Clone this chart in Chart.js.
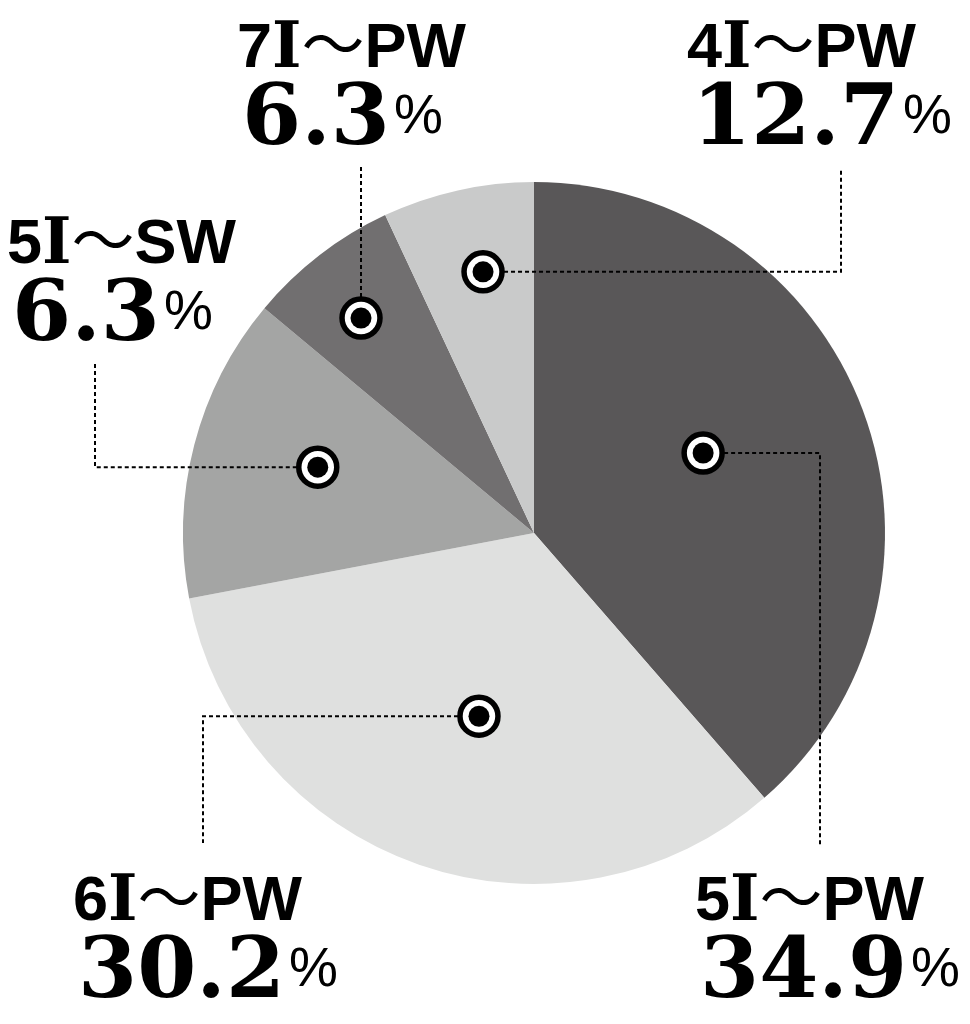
<!DOCTYPE html>
<html>
<head>
<meta charset="utf-8">
<script src="https://cdn.jsdelivr.net/npm/chart.js@4"></script>
<style>
  html, body { margin: 0; padding: 0; background: #fff; }
  canvas { display: block; }
</style>
</head>
<body>
<canvas id="pie" width="970" height="1024"></canvas>
<script>
// slice order is clockwise from 12 o'clock
const clubs = ['5I～PW', '6I～PW', '5I～SW', '7I～PW', '4I～PW'];
const shares = [34.9, 30.2, 12.7, 6.3, 6.3];
const shownPct = ['34.9', '30.2', '6.3', '6.3', '12.7'];
const sliceColors = ['#595758', '#dfe0df', '#a4a5a4', '#716f70', '#c9caca'];

// marker placement (fraction of radius, angle tweak in deg), elbow route and label anchor
const callouts = [
    { r: 0.533, da: -4.8, path: [['x', 820], ['y', 845]], label: [695, 920] },
    { r: 0.545, da: -2.4, path: [['x', 203], ['y', 843]], label: [73, 920] },
    { r: 0.644, da: 2.4, path: [['x', 95], ['y', 361]], label: [7, 263] },
    { r: 0.786, da: -1.2, path: [['y', 166]], label: [237, 67] },
    { r: 0.758, da: 1.5, path: [['x', 841], ['y', 169]], label: [687, 67] }
];

const SANS = 'bold 63px "Liberation Sans", sans-serif';
const SERIF_I = 'bold 63px "DejaVu Serif", serif';
const WAVE = '400 63px "Noto Sans CJK JP", sans-serif';

// club names mix faces: serif "I", thin wave dash, sans for the rest
function drawName(ctx, text, x, y) {
    let cx = x;
    for (const ch of text) {
        ctx.font = ch === 'I' ? SERIF_I : ch === '～' ? WAVE : SANS;
        ctx.fillText(ch, cx, y);
        cx += ctx.measureText(ch).width;
    }
}

const calloutPlugin = {
    id: 'callouts',
    afterDraw(chart) {
        const ctx = chart.ctx;
        const arcs = chart.getDatasetMeta(0).data;
        ctx.save();
        arcs.forEach((arc, i) => {
            const c = callouts[i];
            const p = arc.getProps(['x', 'y', 'startAngle', 'endAngle', 'outerRadius'], true);
            const a = (p.startAngle + p.endAngle) / 2 + c.da * Math.PI / 180;
            const dx = p.x + Math.cos(a) * p.outerRadius * c.r;
            const dy = p.y + Math.sin(a) * p.outerRadius * c.r;

            // dashed leader
            ctx.beginPath();
            ctx.setLineDash([4, 3]);
            ctx.lineWidth = 2;
            ctx.strokeStyle = '#000';
            let cx = dx, cy = dy;
            ctx.moveTo(cx, cy);
            c.path.forEach(([axis, v]) => {
                if (axis === 'x') cx = v; else cy = v;
                ctx.lineTo(cx, cy);
            });
            ctx.stroke();
            ctx.setLineDash([]);

            // ring marker
            ctx.beginPath();
            ctx.arc(dx, dy, 19, 0, Math.PI * 2);
            ctx.fillStyle = '#fff';
            ctx.fill();
            ctx.lineWidth = 5.5;
            ctx.strokeStyle = '#000';
            ctx.stroke();
            ctx.beginPath();
            ctx.arc(dx, dy, 10.5, 0, Math.PI * 2);
            ctx.fillStyle = '#000';
            ctx.fill();

            // label
            const [lx, ly] = c.label;
            ctx.fillStyle = '#000';
            ctx.textAlign = 'left';
            ctx.textBaseline = 'alphabetic';
            drawName(ctx, clubs[i], lx, ly);
            ctx.font = 'bold 85px "DejaVu Serif", serif';
            ctx.fillText(shownPct[i], lx + 5, ly + 77);
            const w = ctx.measureText(shownPct[i]).width;
            ctx.font = '55px "Liberation Sans", sans-serif';
            ctx.fillText('%', lx + 5 + w + 4, ly + 66);
        });
        ctx.restore();
    }
};

new Chart(document.getElementById('pie'), {
    type: 'pie',
    data: {
        labels: clubs,
        datasets: [{
            data: shares,
            backgroundColor: sliceColors,
            borderWidth: 0
        }]
    },
    options: {
        responsive: false,
        animation: false,
        devicePixelRatio: 1,
        layout: {
            padding: { left: 183, right: 85, top: 182, bottom: 140 }
        },
        plugins: {
            legend: { display: false },
            tooltip: { enabled: false }
        }
    },
    plugins: [calloutPlugin]
});
</script>
</body>
</html>
